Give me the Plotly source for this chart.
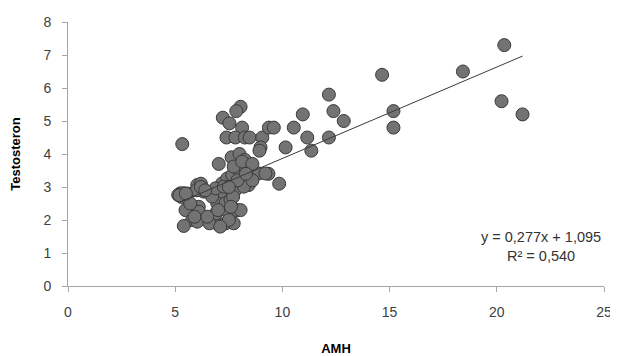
import plotly.graph_objects as go

amh = [20.35, 18.42, 14.65, 20.22, 21.2, 15.18, 15.18, 12.17, 12.38, 12.86, 10.95, 10.53,
       11.16, 12.17, 11.35, 10.15, 9.35, 9.85,
       8.05, 7.85, 7.22, 7.53, 8.12, 7.39, 7.81, 8.25, 8.47, 9.06, 9.37, 9.6, 8.98, 8.93,
       5.33, 7.03, 7.63, 8.0, 8.25,
       5.40, 5.25, 5.14, 6.03, 6.1, 6.33, 5.48, 6.1, 6.1, 5.79, 5.40, 6.03, 6.8, 7.03,
       7.35, 7.73, 7.35, 7.89, 8.05, 7.11, 7.81, 7.19, 7.43, 7.66, 7.97, 8.28, 8.43, 8.9,
       9.21, 8.2, 7.73, 8.12, 6.96, 7.35, 7.58, 6.72, 6.88, 7.27,
       5.6, 5.9, 6.2, 6.6, 6.9, 7.5, 7.7, 8.6, 8.6, 7.9, 5.3, 5.7, 6.5, 7.1, 6.0,
       5.2, 5.5, 6.2, 6.4, 7.6, 7.0, 8.3, 7.5]
testosteron = [7.3, 6.5, 6.4, 5.6, 5.2, 5.3, 4.8, 5.8, 5.3, 5.0, 5.2, 4.8,
               4.5, 4.5, 4.1, 4.2, 3.4, 3.1,
               5.43, 5.3, 5.1, 4.93, 4.8, 4.5, 4.5, 4.5, 4.5, 4.5, 4.8, 4.8, 4.2, 4.1,
               4.3, 3.7, 3.9, 4.0, 3.82,
               2.81, 2.81, 2.76, 3.06, 2.91, 2.86, 2.30, 2.40, 2.25, 2.0, 1.82, 1.95, 2.0, 1.85,
               1.9, 1.9, 2.30, 2.30, 2.30, 2.81, 2.91, 3.11, 3.26, 3.36, 3.52, 3.57, 3.06, 3.41,
               3.41, 3.01, 3.62, 3.77, 2.51, 2.51, 2.61, 2.71, 2.96, 3.01,
               2.8, 2.1, 3.1, 1.9, 2.2, 2.0, 2.7, 3.2, 3.7, 3.2, 2.7, 2.5, 2.1, 1.8, 2.9,
               2.75, 2.8, 3.0, 2.9, 2.4, 2.3, 3.4, 3.0]

slope, intercept = 0.277, 1.095
x_tick_vals = [0, 5, 10, 15, 20, 25]
y_tick_vals = [0, 1, 2, 3, 4, 5, 6, 7, 8]
trend_x = [min(amh), max(amh)]
trend_y = [slope * v + intercept for v in trend_x]

fig = go.Figure()
fig.add_trace(go.Scatter(
    x=amh, y=testosteron, mode="markers",
    marker=dict(size=13, color="#737373", line=dict(color="#3a3a3a", width=1)),
    showlegend=False, hoverinfo="skip"))
fig.add_trace(go.Scatter(
    x=trend_x, y=trend_y, mode="lines",
    line=dict(color="#3a3a3a", width=1), showlegend=False, hoverinfo="skip"))

fig.add_annotation(x=22.05, y=1.21, xref="x", yref="y",
                   text="y = 0,277x + 1,095<br>R² = 0,540", showarrow=False,
                   align="center", font=dict(family="Liberation Sans", size=14.5, color="#333333"))

fig.update_layout(
    width=610, height=348,
    margin=dict(l=60, r=14, t=14, b=70, autoexpand=False),
    paper_bgcolor="white", plot_bgcolor="white",
    font=dict(family="Liberation Sans", size=14, color="#404040"),
    xaxis=dict(range=[0, 25], tickvals=x_tick_vals, showgrid=False, zeroline=False,
               automargin=False,
               showline=True, linecolor="#a6a6a6", linewidth=1,
               ticks="outside", ticklen=5, tickcolor="#a6a6a6", ticklabelstandoff=8,
               title=dict(text="<b>AMH</b>", font=dict(size=13, color="#000000"), standoff=35)),
    yaxis=dict(range=[0, 8], tickvals=y_tick_vals, showgrid=False, zeroline=False,
               automargin=False,
               showline=True, linecolor="#a6a6a6", linewidth=1,
               ticks="outside", ticklen=5, tickcolor="#a6a6a6", ticklabelstandoff=8,
               title=dict(text="<b>Testosteron</b>", font=dict(size=13, color="#000000"), standoff=19)),
)

fig.write_html("out.html")
